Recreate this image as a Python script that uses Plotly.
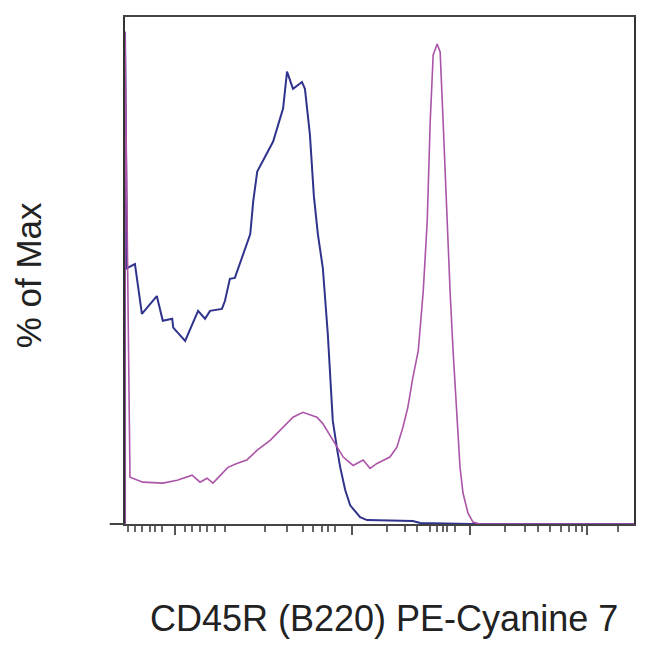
import plotly.graph_objects as go

# Histogram data (channel units 0-1024, % of max)
blue_x = [0, 0, 4, 20, 34, 44, 64, 76, 95, 97, 121, 147, 161, 171, 195, 201, 211, 221, 231, 245,
          252, 258, 266, 298, 312, 318, 326, 338, 356, 362, 372, 380, 388, 398, 408, 418, 427, 433, 443, 453,
          473, 487, 579, 594, 694, 1024]
blue_y = [0, 100, 52.0, 52.8, 42.7, 43.9, 46.3, 41.3, 41.7, 39.9, 37.2, 43.3, 41.7, 43.3, 43.7, 45.3, 49.8, 50.0, 53.0, 56.9,
          58.9, 65.6, 71.6, 77.7, 82.4, 84.4, 91.9, 88.4, 89.8, 88.4, 79.1, 66.6, 58.9, 52.0, 38.6, 21.0, 15.0, 11.5, 6.9, 3.8,
          1.4, 0.8, 0.6, 0.2, 0, 0]

purple_x = [0, 0, 10, 36, 76, 105, 135, 151, 165, 177, 207, 225, 245, 266, 292, 318, 338, 358, 386, 398,
            418, 439, 459, 479, 493, 507, 533, 547, 559, 569, 579, 590, 600, 608, 614, 620, 628, 634, 640, 648,
            654, 660, 668, 674, 680, 690, 700, 714, 1024]
purple_y = [0, 100, 9.5, 8.5, 8.3, 8.9, 9.9, 8.5, 9.3, 8.3, 11.5, 12.3, 13.0, 15.0, 17.0, 19.6, 21.7, 22.7, 21.7, 20.4,
            17.0, 13.6, 11.9, 13.0, 11.3, 12.3, 13.6, 15.6, 19.6, 23.7, 29.7, 35.2, 47.3, 61.5, 81.7, 95.3, 97.5, 95.9, 81.7, 61.5,
            47.3, 35.2, 21.7, 11.5, 6.3, 2.2, 0.4, 0, 0]

major_ticks = [101, 457, 694, 930]
minor_ticks = [6, 20, 34, 50, 60, 74, 121, 135, 151, 165, 181, 201, 282, 326, 358, 378, 396, 408, 422,
               527, 563, 587, 614, 628, 640, 648, 664, 764, 805, 831, 855, 877, 893, 907, 919, 992]

x_title = "CD45R (B220) PE-Cyanine 7"
y_title = "% of Max"

fig = go.Figure()
fig.add_trace(go.Scatter(x=blue_x, y=blue_y, mode="lines",
                         line=dict(color="#30338c", width=2), hoverinfo="skip"))
fig.add_trace(go.Scatter(x=purple_x, y=purple_y, mode="lines",
                         line=dict(color="#ab54a8", width=1.6), hoverinfo="skip"))

fig.update_layout(
    width=650, height=650,
    margin=dict(l=117, r=24, t=7, b=134),
    paper_bgcolor="white", plot_bgcolor="white",
    showlegend=False,
    xaxis=dict(range=[0, 1024], showgrid=False, zeroline=False,
               showline=True, linecolor="#444", linewidth=2, mirror=True,
               tickmode="array", tickvals=major_ticks, ticktext=[""] * len(major_ticks),
               ticks="outside", ticklen=9, tickwidth=2, tickcolor="#555",
               minor=dict(tickmode="array", tickvals=minor_ticks, ticks="outside",
                          ticklen=6, tickwidth=1.5, tickcolor="#666", showgrid=False)),
    yaxis=dict(range=[0, 103], showgrid=False, zeroline=False,
               showline=True, linecolor="#333", linewidth=2, mirror=True,
               showticklabels=False, ticks=""),
    font=dict(family="Liberation Sans, Arial, sans-serif", color="#222"),
)

# bottom axis extends a bit to the left of the frame
fig.add_shape(type="line", xref="paper", yref="paper", x0=-0.03, x1=0, y0=0, y1=0,
              line=dict(color="#444", width=2))

fig.add_annotation(text=x_title, xref="paper", yref="paper", x=0.509, y=-0.187,
                   xanchor="center", yanchor="middle", showarrow=False,
                   font=dict(size=36, color="#222"))
fig.add_annotation(text=y_title, xref="paper", yref="paper", x=-0.189, y=0.49,
                   xanchor="center", yanchor="middle", textangle=-90, showarrow=False,
                   font=dict(size=35, color="#222"))

fig.write_html("out.html")
